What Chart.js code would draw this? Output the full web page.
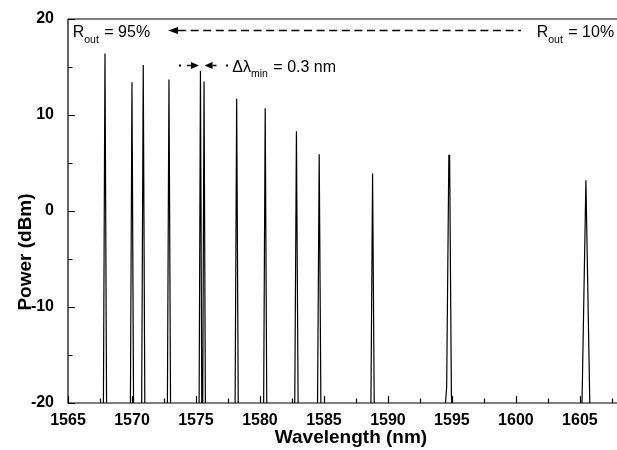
<!DOCTYPE html>
<html>
<head>
<meta charset="utf-8">
<script src="https://cdn.jsdelivr.net/npm/chart.js@4.4.1/dist/chart.umd.min.js"></script>
<style>
  body { margin: 0; background: #fff; }
  #wrap { width: 617px; height: 450px; }
</style>
</head>
<body>
<div id="wrap"><canvas id="spectrum" width="617" height="450"></canvas></div>
<script>
// laser lines
const peakNm = [1567.89, 1570.0, 1570.88, 1572.89, 1575.35, 1575.63, 1578.18, 1580.41, 1582.85, 1584.63, 1588.8, 1594.79, 1605.47];
const peakDbm = [16.4, 13.4, 15.2, 13.7, 14.6, 13.5, 11.7, 10.7, 8.3, 5.9, 3.9, 5.8, 3.2];
const peakHalfWidthNm = [0.13, 0.13, 0.13, 0.13, 0.11, 0.11, 0.13, 0.13, 0.14, 0.14, 0.14, 0.12, 0.33];
// small shoulder at the foot of the 1595 nm line (null = none)
const kneeDbm = [null, null, null, null, null, null, null, null, null, null, null, -18.3, null];
const floorDbm = -22;

const xRange = [1565, 1607.9];
const yRange = [-20, 20];
const xLabelTicks = [1565, 1570, 1575, 1580, 1585, 1590, 1595, 1600, 1605];
const yLabelTicks = [-20, -10, 0, 10, 20];

const FONT = '"Liberation Sans", Arial, sans-serif';

// build the trace: one triangle per line, floor in between
const trace = [];
for (let i = 0; i < peakNm.length; i++) {
    const c = peakNm[i], w = peakHalfWidthNm[i];
    if (kneeDbm[i] !== null) {
        trace.push({x: c - 0.4, y: floorDbm});
        trace.push({x: c - 0.2, y: kneeDbm[i]});
        trace.push({x: c - 0.03, y: peakDbm[i]});
        trace.push({x: c + 0.03, y: peakDbm[i]});
        trace.push({x: c + 0.17, y: kneeDbm[i] - 1});
        trace.push({x: c + 0.3, y: floorDbm});
    } else {
        trace.push({x: c - w, y: floorDbm});
        trace.push({x: c, y: peakDbm[i]});
        trace.push({x: c + w, y: floorDbm});
    }
}

const frameAndNotes = {
    id: 'frameAndNotes',
    afterDraw(chart) {
        const ctx = chart.ctx;
        const a = chart.chartArea;
        const xs = chart.scales.x, ys = chart.scales.y;
        ctx.save();
        ctx.strokeStyle = '#000';
        ctx.fillStyle = '#000';
        ctx.lineWidth = 1.2;

        // frame: left, bottom, top
        ctx.beginPath();
        ctx.moveTo(a.left, a.top); ctx.lineTo(a.right, a.top);
        ctx.moveTo(a.left, a.top); ctx.lineTo(a.left, a.bottom); ctx.lineTo(a.right, a.bottom);
        ctx.stroke();

        // inward tick marks
        ctx.beginPath();
        for (let v = xRange[0]; v <= xRange[1] + 1e-6; v += 2.5) {
            const px = Math.round(xs.getPixelForValue(v)) + 0.5;
            const len = xLabelTicks.includes(v) ? 7 : 4.5;
            ctx.moveTo(px, a.bottom); ctx.lineTo(px, a.bottom - len);
        }
        for (let v = yRange[0]; v <= yRange[1]; v += 5) {
            const py = Math.round(ys.getPixelForValue(v)) + 0.5;
            const len = yLabelTicks.includes(v) ? 7 : 4.5;
            ctx.moveTo(a.left, py); ctx.lineTo(a.left + len, py);
        }
        ctx.stroke();

        // axis titles
        ctx.font = 'bold 19px ' + FONT;
        ctx.textAlign = 'center';
        ctx.textBaseline = 'middle';
        ctx.fillText('Wavelength (nm)', 351, 438);
        ctx.save();
        ctx.translate(26, 252);
        ctx.rotate(-Math.PI / 2);
        ctx.fillText('Power (dBm)', 0, 0);
        ctx.restore();

        // text with subscript
        function subText(x, y, main, sub, rest) {
            ctx.textAlign = 'left';
            ctx.textBaseline = 'alphabetic';
            ctx.font = '16px ' + FONT;
            ctx.fillText(main, x, y);
            x += ctx.measureText(main).width;
            ctx.font = '10.5px ' + FONT;
            ctx.fillText(sub, x, y + 5.5);
            x += ctx.measureText(sub).width + 1;
            ctx.font = '16px ' + FONT;
            ctx.fillText(rest, x, y);
        }

        const topY = 37.3;
        subText(72.7, topY, 'R', 'out', ' = 95%');
        subText(536.7, topY, 'R', 'out', ' = 10%');

        // dashed arrow from 10% towards 95%
        const arrowY = 30.5;
        ctx.beginPath();
        ctx.moveTo(168, arrowY);
        ctx.lineTo(178, arrowY - 3.5);
        ctx.lineTo(178, arrowY + 3.5);
        ctx.closePath();
        ctx.fill();
        ctx.lineWidth = 1.5;
        ctx.setLineDash([8, 4.6]);
        ctx.beginPath();
        ctx.moveTo(178, arrowY);
        ctx.lineTo(521, arrowY);
        ctx.stroke();
        ctx.setLineDash([]);

        // minimum spacing marker between the two close lines
        const dy = 65.5;
        const tipL = xs.getPixelForValue(peakNm[4]) - 1.5;
        const tipR = xs.getPixelForValue(peakNm[5]) + 0.5;
        ctx.beginPath();
        ctx.moveTo(tipL, dy); ctx.lineTo(tipL - 8, dy - 3.5); ctx.lineTo(tipL - 8, dy + 3.5); ctx.closePath();
        ctx.moveTo(tipR, dy); ctx.lineTo(tipR + 8, dy - 3.5); ctx.lineTo(tipR + 8, dy + 3.5); ctx.closePath();
        ctx.fill();
        ctx.lineWidth = 1.6;
        ctx.beginPath();
        ctx.moveTo(tipL - 8, dy); ctx.lineTo(tipL - 12, dy);
        ctx.moveTo(tipR + 8, dy); ctx.lineTo(tipR + 12, dy);
        ctx.stroke();
        ctx.fillRect(179, dy - 1, 2, 2);
        ctx.fillRect(226, dy - 1, 2, 2);
        subText(232.3, 71.7, '\u0394\u03bb', 'min', ' = 0.3 nm');

        ctx.restore();
    }
};

new Chart(document.getElementById('spectrum'), {
    type: 'line',
    data: {
        datasets: [{
            data: trace,
            borderColor: '#000',
            borderWidth: 1.2,
            pointRadius: 0,
            tension: 0,
            fill: false
        }]
    },
    options: {
        responsive: false,
        animation: false,
        events: [],
        layout: { padding: { top: 19, right: 0, left: 0, bottom: 0 } },
        plugins: { legend: { display: false }, tooltip: { enabled: false } },
        scales: {
            x: {
                type: 'linear',
                min: xRange[0],
                max: xRange[1],
                afterFit: s => { s.height = 47; },
                afterBuildTicks: s => { s.ticks = xLabelTicks.map(v => ({value: v})); },
                grid: { display: false },
                border: { display: false },
                ticks: {
                    autoSkip: false,
                    maxRotation: 0,
                    padding: 0,
                    color: '#000',
                    font: { family: FONT, size: 16, weight: 'bold' },
                    callback: v => String(v)
                }
            },
            y: {
                min: yRange[0],
                max: yRange[1],
                afterFit: s => { s.width = 68; },
                afterBuildTicks: s => { s.ticks = yLabelTicks.map(v => ({value: v})); },
                grid: { display: false },
                border: { display: false },
                ticks: {
                    padding: 6,
                    color: '#000',
                    font: { family: FONT, size: 16, weight: 'bold' },
                    callback: v => String(v)
                }
            }
        }
    },
    plugins: [frameAndNotes]
});
</script>
</body>
</html>
